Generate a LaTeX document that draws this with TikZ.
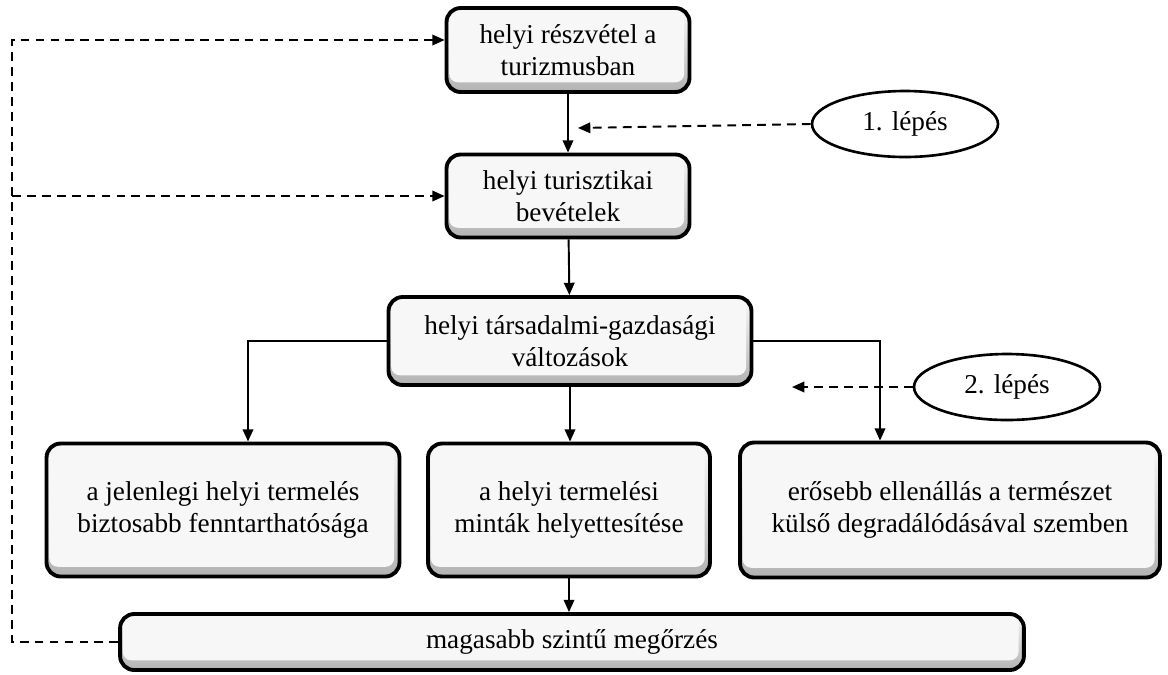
\documentclass[tikz,border=0pt]{standalone}
\usepackage{fontspec}
\setmainfont{Liberation Serif}
\usetikzlibrary{shapes.geometric,arrows.meta}

\begin{document}
\begin{tikzpicture}[x=0.02cm,y=-0.02cm,
	font=\fontsize{15.5}{18}\selectfont,
	box/.style={draw=black,line width=2.2pt,rounded corners=8pt,align=center,
		top color=gray!4,bottom color=gray!60,
		path picture={\fill[gray!6,rounded corners=5pt]
			([shift={(1.5pt,-1.5pt)}]path picture bounding box.north west) rectangle
			([shift={(-3pt,5.5pt)}]path picture bounding box.south east);}},
	lepes/.style={draw=black,line width=1.5pt,ellipse,minimum width=3.72cm,minimum height=1.32cm},
	arr/.style={line width=1.1pt,-{Triangle[length=7pt,width=6pt]}},
	dasharr/.style={arr,dash pattern=on 5pt off 3.5pt}]
	\useasboundingbox (0,0) rectangle (1168,674);
	\node[box,minimum width=4.86cm,minimum height=1.68cm] (b1) at (568,50) {helyi részvétel a\\turizmusban};
	\node[box,minimum width=4.86cm,minimum height=1.66cm] (b2) at (568,196) {helyi turisztikai\\bevételek};
	\node[box,minimum width=7.26cm,minimum height=1.76cm] (b3) at (570,341) {helyi társadalmi-gazdasági\\változások};
	\node[box,minimum width=7.06cm,minimum height=2.66cm] (b4) at (223,510) {a jelenlegi helyi termelés\\biztosabb fenntarthatósága};
	\node[box,minimum width=5.64cm,minimum height=2.66cm] (b5) at (569,510) {a helyi termelési\\minták helyettesítése};
	\node[box,minimum width=8.4cm,minimum height=2.7cm] (b6) at (950,510) {erősebb ellenállás a természet\\külső degradálódásával szemben};
	\node[box,minimum width=18.08cm,minimum height=1.12cm] (b7) at (572,642) {magasabb szintű megőrzés};
	\node[lepes] (e1) at (905,124) {1. lépés};
	\node[lepes] (e2) at (1007,387) {2. lépés};
	\coordinate (s1) at (578,128);
	\coordinate (s2) at (792,387);
	\coordinate (fl) at (12,642);
	% main flow
	\draw[arr] (b1) -- (b2);
	\draw[arr] (b2) -- (b3);
	\draw[arr] (b3.west) -| ([xshift=0.5cm]b4.north);
	\draw[arr] (b3.south) -- (b3.south |- b5.north);
	\draw[arr] (b3.east) -| ([xshift=-1.4cm]b6.north);
	\draw[arr] (b5.south) -- (b5.south |- b7.north);
	% steps
	\draw[dasharr] (e1.west) -- (s1);
	\draw[dasharr] (e2.west) -- (s2);
	% feedback
	\draw[dasharr] (b7.west) -- (fl) |- ([yshift=0.2cm]b1.west);
	\draw[dasharr] (fl |- b2.west) -- (b2.west);
\end{tikzpicture}
\end{document}
